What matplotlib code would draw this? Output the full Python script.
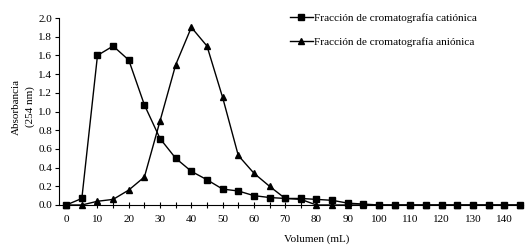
import matplotlib
matplotlib.use("Agg")
import matplotlib.pyplot as plt
from matplotlib.ticker import MultipleLocator

plt.rcParams['font.family'] = ['Liberation Serif', 'DejaVu Serif']

volumen = list(range(0, 150, 5))
cationica = [0.0, 0.07, 1.60, 1.70, 1.55, 1.07, 0.71, 0.50, 0.36, 0.27, 0.17, 0.15,
             0.10, 0.08, 0.07, 0.07, 0.06, 0.05, 0.02, 0.01, 0.0, 0.0, 0.0, 0.0,
             0.0, 0.0, 0.0, 0.0, 0.0, 0.0]
anionica = [0.0, 0.0, 0.04, 0.06, 0.16, 0.30, 0.90, 1.50, 1.90, 1.70, 1.15, 0.53,
            0.34, 0.20, 0.07, 0.06, 0.0, 0.0, 0.0, 0.0, 0.0, 0.0, 0.0, 0.0,
            0.0, 0.0, 0.0, 0.0, 0.0, 0.0]
labels = ["Fracción de cromatografía catiónica", "Fracción de cromatografía aniónica"]

W, H = 528, 246
fig = plt.figure(figsize=(W/100, H/100), dpi=100)
ax = fig.add_axes([59/W, 1-205/H, (523-59)/W, (205-18)/H])

ax.plot(volumen, cationica, color='black', lw=1, marker='s', ms=4.5, label=labels[0], clip_on=False, zorder=3)
ax.plot(volumen, anionica, color='black', lw=1, marker='^', ms=5, label=labels[1], clip_on=False, zorder=3)

ax.set_xlim(-2.3, 146)
ax.set_ylim(0, 2.0)
ax.xaxis.set_major_locator(MultipleLocator(10))
ax.xaxis.set_minor_locator(MultipleLocator(5))
ax.yaxis.set_major_locator(MultipleLocator(0.2))
ax.yaxis.set_major_formatter(matplotlib.ticker.FormatStrFormatter('%.1f'))
ax.tick_params(axis='x', which='both', direction='inout', length=5, width=0.8, labelsize=8, pad=5)
ax.tick_params(axis='y', which='major', direction='out', length=3, width=0.8, labelsize=8, pad=2)
for s in ['top', 'right']:
    ax.spines[s].set_visible(False)
for s in ['left', 'bottom']:
    ax.spines[s].set_linewidth(0.8)

fig.text(23/W, 1-107/H, "Absorbancia\n(254 nm)", rotation=90, ha='center', va='center',
         fontsize=8, linespacing=1.6)
fig.text(317/W, 1-239/H, "Volumen (mL)", ha='center', va='center', fontsize=8)

ax.legend(loc='upper left', bbox_to_anchor=(290/W, 1-13/H), bbox_transform=fig.transFigure,
          frameon=False, fontsize=8.1, handlelength=2.0, handletextpad=0.15, labelspacing=1.3,
          borderaxespad=0, borderpad=0)

fig.savefig("out.png", dpi=100)
